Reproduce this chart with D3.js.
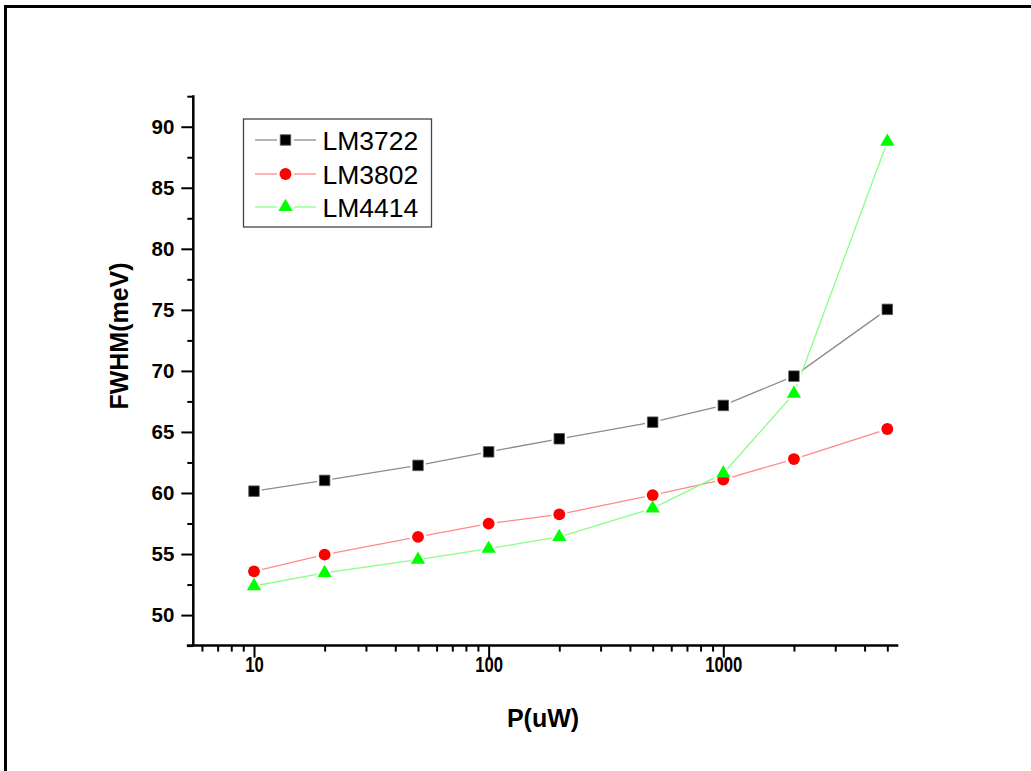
<!DOCTYPE html>
<html>
<head>
<meta charset="utf-8">
<script src="https://cdn.jsdelivr.net/npm/d3@7"></script>
<style>
  html, body { margin: 0; padding: 0; background: #fff; }
  svg { display: block; }
  text { font-family: "Liberation Sans", Arial, sans-serif; }
</style>
</head>
<body>
<svg id="chart" width="1031" height="771"></svg>
<script>
// ---- data ----
const powers = [10, 20, 50, 100, 200, 500, 1000, 2000, 5000];
const lm3722 = [60.15, 61.03, 62.26, 63.37, 64.44, 65.8, 67.17, 69.57, 75.04];
const lm3802 = [53.58, 54.95, 56.40, 57.49, 58.25, 59.83, 61.1, 62.78, 65.24];
const lm4414 = [52.38, 53.45, 54.54, 55.44, 56.4, 58.74, 61.6, 68.13, 88.77];
const seriesNames = ["LM3722", "LM3802", "LM4414"];
const xMajorTicks = [10, 100, 1000];
const xMinorTicks = [6, 7, 8, 9, 20, 30, 40, 50, 60, 70, 80, 90, 200, 300, 400, 500, 600, 700, 800, 900, 2000, 3000, 4000, 5000];
const yMajorTicks = [50, 55, 60, 65, 70, 75, 80, 85, 90];
const yMinorTicks = [47.5, 52.5, 57.5, 62.5, 67.5, 72.5, 77.5, 82.5, 87.5, 92.5];
const xTitle = "P(uW)";
const yTitle = "FWHM(meV)";

(function () {
// ---- layout ----
const svg = d3.select("#chart");
const pLeft = 193.3, pRight = 898.3, pTop = 96.2, pBottom = 645.6;

// outer frame (runs off the right and bottom edges)
svg.append("rect").attr("x", 5.5).attr("y", 6.5).attr("width", 1200).attr("height", 900)
  .attr("fill", "none").attr("stroke", "#000").attr("stroke-width", 3);

const decade = 234.65;
const x = d3.scaleLog()
  .domain([Math.pow(10, 1 - (254 - pLeft) / decade), Math.pow(10, 3 + (pRight - 723.3) / decade)])
  .range([pLeft, pRight]);
const y = d3.scaleLinear().domain([47.5, 92.5]).range([pBottom, pTop]);

// ---- axes ----
const axisStyle = g => {
  g.select(".domain").remove();
  g.selectAll(".tick line").attr("stroke", "#000").attr("stroke-width", 2);
};

// x axis
const gx = svg.append("g").attr("transform", `translate(0,${pBottom})`);
gx.append("g").call(d3.axisBottom(x).tickValues(xMinorTicks).tickSize(6).tickFormat("")).call(axisStyle);
const gxMaj = gx.append("g").call(d3.axisBottom(x).tickValues(xMajorTicks).tickSize(12).tickPadding(-1).tickFormat(d3.format("d"))).call(axisStyle);
gxMaj.selectAll(".tick text")
  .attr("font-size", 22).attr("font-weight", "bold").attr("fill", "#000")
  .attr("transform", "scale(0.76,1)");
gx.append("line").attr("x1", pLeft - 6.5).attr("x2", pRight).attr("y1", 0).attr("y2", 0)
  .attr("stroke", "#000").attr("stroke-width", 2.5);

// y axis
const gy = svg.append("g").attr("transform", `translate(${pLeft},0)`);
gy.append("g").call(d3.axisLeft(y).tickValues(yMinorTicks).tickSize(6).tickFormat("")).call(axisStyle);
const gyMaj = gy.append("g").call(d3.axisLeft(y).tickValues(yMajorTicks).tickSize(12).tickPadding(7).tickFormat(d3.format("d"))).call(axisStyle);
gyMaj.selectAll(".tick text")
  .attr("font-size", 20.5).attr("font-weight", "bold").attr("fill", "#000");
gy.append("line").attr("x1", 0).attr("x2", 0).attr("y1", pTop - 1).attr("y2", pBottom)
  .attr("stroke", "#000").attr("stroke-width", 2.5);

// titles
svg.append("text").attr("x", 543).attr("y", 727).attr("text-anchor", "middle")
  .attr("font-size", 25).attr("font-weight", "bold").text(xTitle);
svg.append("text").attr("transform", "translate(128,336) rotate(-90)").attr("text-anchor", "middle")
  .attr("font-size", 25).attr("font-weight", "bold").text(yTitle);

// ---- series ----
const series = [
  { name: seriesNames[0], values: lm3722, line: "#8c8c8c", fill: "#000", stroke: "#555", symbol: d3.symbolSquare, size: 110, halo: 240 },
  { name: seriesNames[1], values: lm3802, line: "#ff8a8a", fill: "#ff0000", stroke: "none", symbol: d3.symbolCircle, size: 110, halo: 230 },
  { name: seriesNames[2], values: lm4414, line: "#88ff88", fill: "#00ff00", stroke: "none", symbol: d3.symbolTriangle, size: 88, halo: 175 }
];

const lineGen = d3.line().x((d, i) => x(powers[i])).y(d => y(d));

series.forEach(s => {
  svg.append("path").datum(s.values).attr("d", lineGen)
    .attr("fill", "none").attr("stroke", s.line).attr("stroke-width", 1.3);
});
series.forEach(s => {
  const g = svg.append("g");
  g.selectAll("path.halo").data(s.values).join("path").attr("class", "halo")
    .attr("transform", (d, i) => `translate(${x(powers[i])},${y(d)})`)
    .attr("d", d3.symbol().type(s.symbol).size(s.halo)).attr("fill", "#fff");
});
series.forEach(s => {
  const g = svg.append("g");
  g.selectAll("path.mark").data(s.values).join("path").attr("class", "mark")
    .attr("transform", (d, i) => `translate(${x(powers[i])},${y(d)})`)
    .attr("d", d3.symbol().type(s.symbol).size(s.size))
    .attr("fill", s.fill).attr("stroke", s.stroke).attr("stroke-width", 0.8);
});

// ---- legend ----
const lg = svg.append("g");
lg.append("rect").attr("x", 243.5).attr("y", 119).attr("width", 188).attr("height", 108)
  .attr("fill", "#fff").attr("stroke", "#444").attr("stroke-width", 1.3);
const rowsY = [140, 174, 207];
series.forEach((s, i) => {
  const cy = rowsY[i];
  lg.append("line").attr("x1", 255).attr("x2", 277).attr("y1", cy).attr("y2", cy).attr("stroke", s.line).attr("stroke-width", 1.3);
  lg.append("line").attr("x1", 294).attr("x2", 316).attr("y1", cy).attr("y2", cy).attr("stroke", s.line).attr("stroke-width", 1.3);
  lg.append("path").attr("transform", `translate(285.5,${cy})`)
    .attr("d", d3.symbol().type(s.symbol).size(s.size)).attr("fill", s.fill).attr("stroke", s.stroke).attr("stroke-width", 0.8);
  lg.append("text").attr("x", 322.5).attr("y", cy + 9.5).attr("font-size", 26.5).attr("fill", "#000").text(s.name);
});
})();
</script>
</body>
</html>
